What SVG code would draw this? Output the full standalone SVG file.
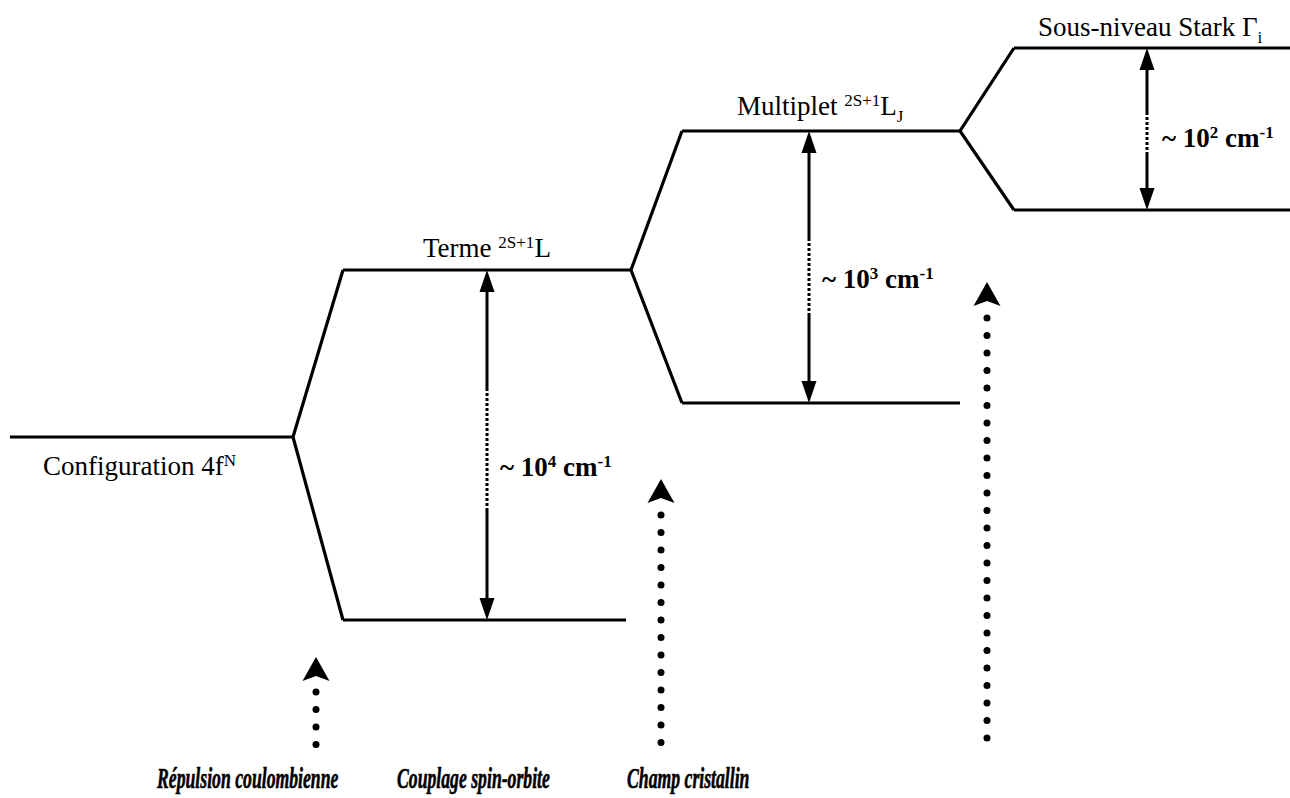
<svg xmlns="http://www.w3.org/2000/svg" width="1290" height="798" viewBox="0 0 1290 798">
<style>
.lvl{fill:none;stroke:#000;stroke-width:3.2;stroke-linejoin:miter}
.ax{fill:none;stroke:#000;stroke-width:3}
.dot{fill:none;stroke:#000;stroke-width:3;stroke-dasharray:3 2}
.hd{fill:#000}
.t{font-family:"Liberation Serif","Times New Roman",serif;font-size:27px;fill:#000}
.b{font-family:"Liberation Serif","Times New Roman",serif;font-size:27px;font-weight:bold;fill:#000}
.bi{font-family:"Liberation Serif","Times New Roman",serif;font-size:30px;font-weight:bold;font-style:italic;fill:#000;stroke:#000;stroke-width:0.6}
.sup{font-size:17px}
</style>
<rect width="1290" height="798" fill="#fff"/>
<g id="config">
<path class="lvl" d="M10 437H293"/>
<text class="t" x="43" y="475">Configuration 4f<tspan class="sup" dy="-9">N</tspan></text>
</g>
<g id="terme">
<path class="lvl" d="M626 620H343M343 270H631"/>
<text class="t" x="423" y="257">Terme <tspan class="sup" dy="-9">2S+1</tspan><tspan dy="9">L</tspan></text>
</g>
<g id="multiplet">
<path class="lvl" d="M682 131H960M682 403H960"/>
<text class="t" x="737" y="115">Multiplet <tspan class="sup" dy="-9">2S+1</tspan><tspan dy="9">L</tspan><tspan class="sup" dy="7">J</tspan></text>
</g>
<g id="stark">
<path class="lvl" d="M1014 48H1290M1014 210H1290"/>
<text class="t" x="1038" y="36">Sous-niveau Stark Γ<tspan class="sup" dy="7">i</tspan></text>
</g>
<g id="connectors">
<path class="lvl" d="M343 270L293 437L343 620"/>
<path class="lvl" d="M682 131L631 270L682 403"/>
<path class="lvl" d="M1014 48L960 131L1014 210"/>
<path class="ax" d="M487 288V388M487 508V602"/>
<path class="dot" d="M487 388V508"/>
<path class="hd" d="M487 270L479.5 292H494.5Z M487 620L479.5 598H494.5Z"/>
<path class="ax" d="M809 149V238M809 313V385"/>
<path class="dot" d="M809 238V313"/>
<path class="hd" d="M809 131L801.5 153H816.5Z M809 403L801.5 381H816.5Z"/>
<path class="ax" d="M1147 66V112M1147 152V192"/>
<path class="dot" d="M1147 112V152"/>
<path class="hd" d="M1147 48L1139.5 70H1154.5Z M1147 210L1139.5 188H1154.5Z"/>
<g fill="#000">
<path d="M316 657L302.5 681L316 676L329.5 681Z"/>
<circle cx="316" cy="692" r="3.5"/><circle cx="316" cy="709.5" r="3.5"/><circle cx="316" cy="727" r="3.5"/><circle cx="316" cy="744.5" r="3.5"/>
<path d="M661 479L647.5 503L661 498L674.5 503Z"/>
<circle cx="661" cy="515" r="3.5"/><circle cx="661" cy="532.5" r="3.5"/><circle cx="661" cy="550" r="3.5"/><circle cx="661" cy="567.5" r="3.5"/><circle cx="661" cy="585" r="3.5"/><circle cx="661" cy="602.5" r="3.5"/><circle cx="661" cy="620" r="3.5"/><circle cx="661" cy="637.5" r="3.5"/><circle cx="661" cy="655" r="3.5"/><circle cx="661" cy="672.5" r="3.5"/><circle cx="661" cy="690" r="3.5"/><circle cx="661" cy="707.5" r="3.5"/><circle cx="661" cy="725" r="3.5"/><circle cx="661" cy="742.5" r="3.5"/>
<path d="M987 282L973.5 306L987 301L1000.5 306Z"/>
<circle cx="987" cy="318" r="3.5"/><circle cx="987" cy="335.5" r="3.5"/><circle cx="987" cy="353" r="3.5"/><circle cx="987" cy="370.5" r="3.5"/><circle cx="987" cy="388" r="3.5"/><circle cx="987" cy="405.5" r="3.5"/><circle cx="987" cy="423" r="3.5"/><circle cx="987" cy="440.5" r="3.5"/><circle cx="987" cy="458" r="3.5"/><circle cx="987" cy="475.5" r="3.5"/><circle cx="987" cy="493" r="3.5"/><circle cx="987" cy="510.5" r="3.5"/><circle cx="987" cy="528" r="3.5"/><circle cx="987" cy="545.5" r="3.5"/><circle cx="987" cy="563" r="3.5"/><circle cx="987" cy="580.5" r="3.5"/><circle cx="987" cy="598" r="3.5"/><circle cx="987" cy="615.5" r="3.5"/><circle cx="987" cy="633" r="3.5"/><circle cx="987" cy="650.5" r="3.5"/><circle cx="987" cy="668" r="3.5"/><circle cx="987" cy="685.5" r="3.5"/><circle cx="987" cy="703" r="3.5"/><circle cx="987" cy="720.5" r="3.5"/><circle cx="987" cy="738" r="3.5"/>
</g>
</g>
<g id="labels">
<text class="b" x="500" y="476">~ 10<tspan class="sup" dy="-9">4</tspan><tspan dy="9"> cm</tspan><tspan class="sup" dy="-9">-1</tspan></text>
<text class="b" x="822" y="288">~ 10<tspan class="sup" dy="-9">3</tspan><tspan dy="9"> cm</tspan><tspan class="sup" dy="-9">-1</tspan></text>
<text class="b" x="1162" y="147">~ 10<tspan class="sup" dy="-9">2</tspan><tspan dy="9"> cm</tspan><tspan class="sup" dy="-9">-1</tspan></text>
<text class="bi" transform="translate(157 788) scale(0.59 1)">Répulsion coulombienne</text>
<text class="bi" transform="translate(397 788) scale(0.59 1)">Couplage spin-orbite</text>
<text class="bi" transform="translate(627 788) scale(0.59 1)">Champ cristallin</text>
</g>
</svg>
